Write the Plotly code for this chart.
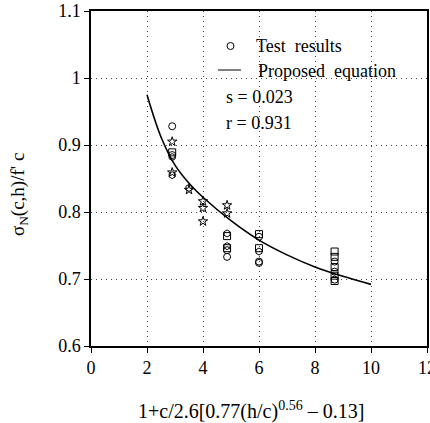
import plotly.graph_objects as go

# ---- data ----
test_x = [2.9, 2.9, 2.9, 2.9, 2.9, 2.9, 2.9,
          3.5, 3.5,
          4.0, 4.0, 4.0,
          4.86, 4.86, 4.86, 4.86, 4.86, 4.86, 4.86, 4.86,
          6.0, 6.0, 6.0, 6.0, 6.0, 6.0,
          8.7, 8.7, 8.7, 8.7, 8.7, 8.7, 8.7, 8.7]
test_y = [0.928, 0.905, 0.889, 0.885, 0.882, 0.859, 0.855,
          0.836, 0.833,
          0.816, 0.806, 0.786,
          0.810, 0.798, 0.768, 0.764, 0.749, 0.746, 0.743, 0.733,
          0.767, 0.763, 0.746, 0.741, 0.726, 0.724,
          0.741, 0.733, 0.726, 0.718, 0.711, 0.705, 0.699, 0.697]
test_symbols = ["circle-open", "star-open", "square-open", "circle-open", "hexagon-open", "star-open", "hexagon-open",
                "hexagon-open", "star-open",
                "star-open", "star-open", "star-open",
                "star-open", "star-open", "hexagon-open", "square-open", "hexagon-open", "square-open", "circle-open", "circle-open",
                "square-open", "circle-open", "square-open", "hexagon-open", "circle-open", "circle-open",
                "square-open", "square-open", "circle-open", "square-open", "circle-open", "square-open", "circle-open", "square-open"]

curve_x = [2.0, 2.5, 3.0, 3.5, 4.0, 5.0, 6.0, 7.0, 8.0, 9.0, 10.0]
curve_y = [0.975, 0.912, 0.870, 0.843, 0.822, 0.787, 0.758, 0.736, 0.718, 0.704, 0.692]

x_ticks = [0, 2, 4, 6, 8, 10, 12]
y_ticks = [0.6, 0.7, 0.8, 0.9, 1.0, 1.1]

FONT = "Times New Roman"

fig = go.Figure()
fig.add_trace(go.Scatter(x=curve_x, y=curve_y, mode="lines",
                         line=dict(color="black", width=1.6, shape="spline"),
                         showlegend=False))
fig.add_trace(go.Scatter(x=test_x, y=test_y, mode="markers",
                         marker=dict(symbol=test_symbols, size=7, color="black",
                                     line=dict(color="black", width=1)),
                         showlegend=False))

W, H = 430, 423
ml, mr, mt, mb = 91, 3, 11, 77
pw, ph = W - ml - mr, H - mt - mb

def px(x):
    return (x - ml) / pw

def py(y):
    return (H - mb - y) / ph

axis_common = dict(showline=True, mirror=True, linecolor="black", linewidth=1.5,
                   ticks="outside", ticklen=5, tickcolor="black", tickwidth=1,
                   showgrid=True, gridcolor="#444", gridwidth=1, griddash="1px,4px",
                   zeroline=False, automargin=False, ticklabeloverflow="allow",
                   tickfont=dict(family=FONT, size=18, color="black"))

fig.update_xaxes(range=[0, 12], tickvals=x_ticks, **axis_common)
fig.update_yaxes(range=[0.6, 1.1], tickvals=y_ticks, **axis_common)

def ann(text, x, y, xanchor="left", size=18, **kw):
    return dict(text=text, x=px(x), y=py(y), xref="paper", yref="paper",
                xanchor=xanchor, yanchor="middle", showarrow=False,
                font=dict(family=FONT, size=size, color="black"), **kw)

annotations = [
    ann("1+c/2.6[0.77(h/c)<sup>0.56</sup> \u2013 0.13]", 251, 410, xanchor="center", size=20),
    ann("\u03c3<sub>N</sub>(c,h)/f' c", 19, 195, xanchor="center", size=19, textangle=-90),
    ann("Test  results", 254, 46),
    ann("Proposed  equation", 256, 71),
    ann("s = 0.023", 224, 97),
    ann("r = 0.931", 224, 123),
]

shapes = [
    dict(type="circle", xref="paper", yref="paper",
         x0=px(227), x1=px(234), y0=py(49.5), y1=py(42.5),
         line=dict(color="black", width=1)),
    dict(type="line", xref="paper", yref="paper",
         x0=px(218), x1=px(241), y0=py(70), y1=py(70),
         line=dict(color="black", width=1)),
]

fig.update_layout(width=W, height=H, margin=dict(l=ml, r=mr, t=mt, b=mb, autoexpand=False),
                  plot_bgcolor="white", paper_bgcolor="white",
                  annotations=annotations, shapes=shapes, showlegend=False)

fig.write_html("out.html", config={"displayModeBar": False},
               post_script="document.body.style.margin='0';document.body.style.padding='0';")
